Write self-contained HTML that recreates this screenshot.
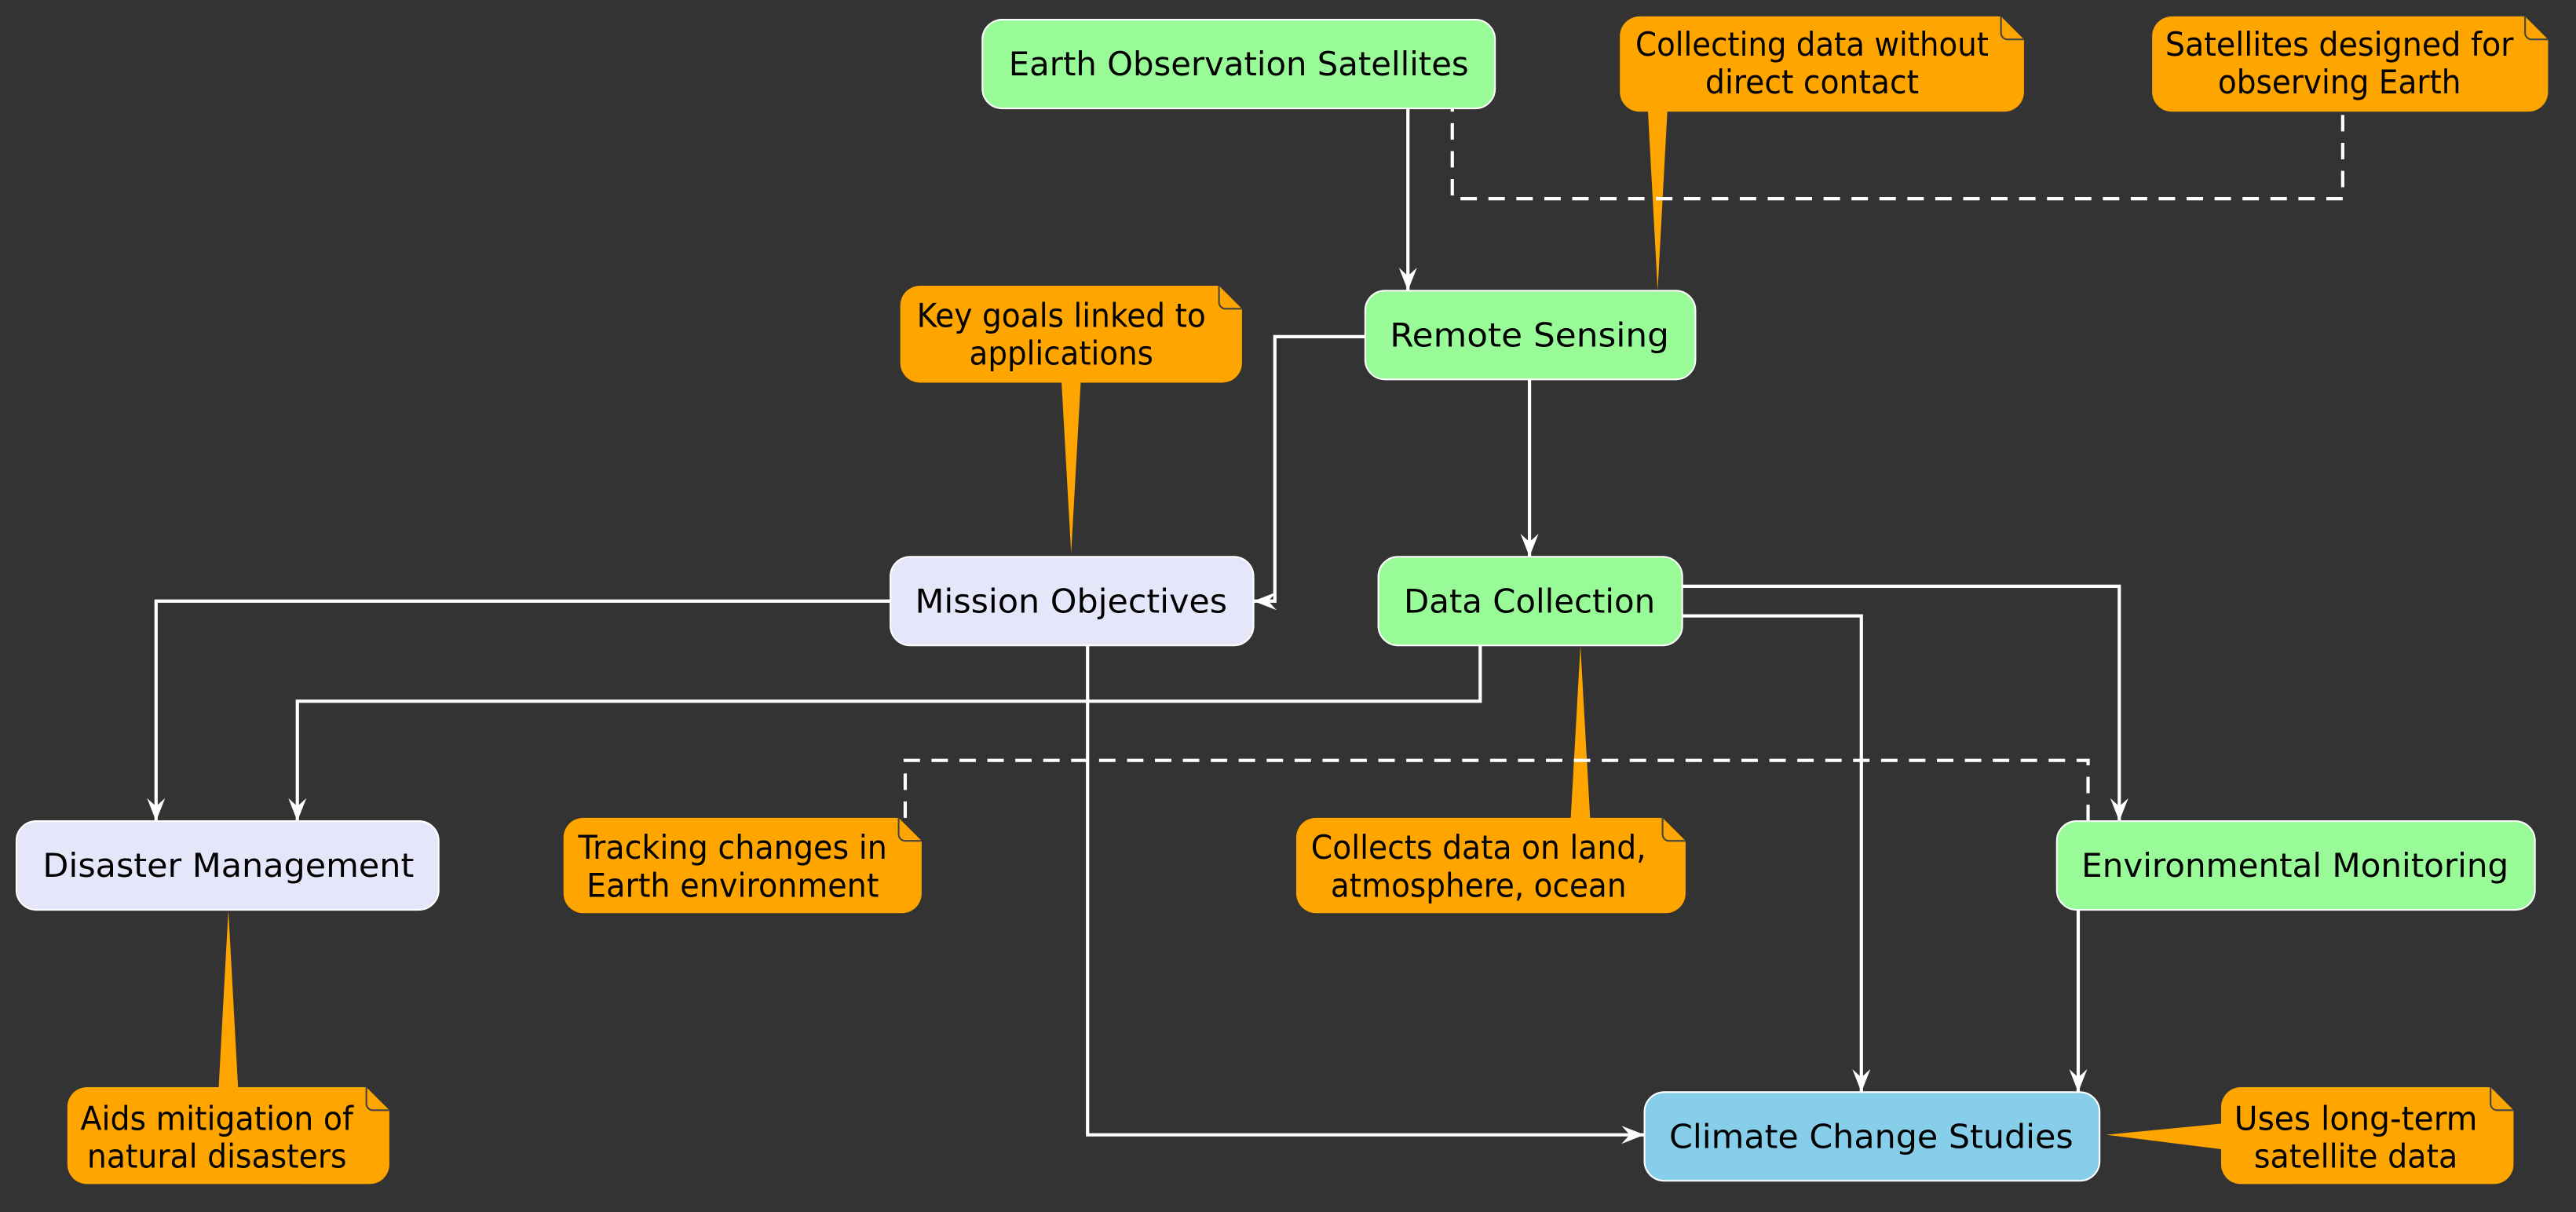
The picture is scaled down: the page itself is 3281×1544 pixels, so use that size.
<!DOCTYPE html>
<html><head><meta charset="utf-8"><style>
html,body{margin:0;padding:0;background:#333333;}
svg{display:block}
text{font-family:"DejaVu Sans","Liberation Sans",sans-serif;font-size:20px;fill:#000;text-anchor:middle}
</style></head><body>
<svg width="3281" height="1544" viewBox="0 0 1568 738" preserveAspectRatio="none" xmlns="http://www.w3.org/2000/svg">
<defs>
<marker id="a" markerWidth="16" markerHeight="14" refX="14" refY="7" orient="auto" markerUnits="userSpaceOnUse">
<path d="M0,1.5 L14,7 L0,12.5 L5,7 Z" fill="#fff"/>
</marker>
</defs>
<rect width="1568" height="738" fill="#333333"/>
<g fill="#FFA500">
<polygon points="1003,66 1015,66 1009,177"/>
<polygon points="646,230 658,230 652,337"/>
<polygon points="956,500 968,500 962,393"/>
<polygon points="133,664 145,664 139,554"/>
<polygon points="1354,684 1354,700 1282,691"/>
</g>
<g stroke="#fff" stroke-width="2" fill="none">
<path d="M857,66 V177" marker-end="url(#a)"/>
<path d="M831,205 H776 V366 H763" marker-end="url(#a)"/>
<path d="M931,231 V339" marker-end="url(#a)"/>
<path d="M542,366 H95 V500" marker-end="url(#a)"/>
<path d="M901,393 V427 H181 V500" marker-end="url(#a)"/>
<path d="M1024,357 H1290 V500" marker-end="url(#a)"/>
<path d="M1024,375 H1133 V665" marker-end="url(#a)"/>
<path d="M662,393 V691 H1001" marker-end="url(#a)"/>
<path d="M1265,554 V665" marker-end="url(#a)"/>
</g>
<g stroke="#fff" stroke-width="2" fill="none" stroke-dasharray="10,7">
<path d="M1426,70 V121 H884 V66"/>
<path d="M551,498 V463 H1271 V500"/>
</g>
<g stroke="#fff" stroke-width="1">
<rect x="598" y="12" width="312" height="54" rx="12" fill="#98FB98"/>
<rect x="831" y="177" width="201" height="54" rx="12" fill="#98FB98"/>
<rect x="542" y="339" width="221" height="54" rx="12" fill="#E6E6FA"/>
<rect x="839" y="339" width="185" height="54" rx="12" fill="#98FB98"/>
<rect x="10" y="500" width="257" height="54" rx="12" fill="#E6E6FA"/>
<rect x="1252" y="500" width="291" height="54" rx="12" fill="#98FB98"/>
<rect x="1001" y="665" width="277" height="54" rx="12" fill="#87CEEB"/>
</g>
<g fill="#FFA500">
<path d="M998,10 H1218 L1232,24 V56 A12,12 0 0 1 1220,68 H998 A12,12 0 0 1 986,56 V22 A12,12 0 0 1 998,10Z"/>
<path d="M1322,10 H1537 L1551,24 V56 A12,12 0 0 1 1539,68 H1322 A12,12 0 0 1 1310,56 V22 A12,12 0 0 1 1322,10Z"/>
<path d="M560,174 H742 L756,188 V221 A12,12 0 0 1 744,233 H560 A12,12 0 0 1 548,221 V186 A12,12 0 0 1 560,174Z"/>
<path d="M355,498 H547 L561,512 V544 A12,12 0 0 1 549,556 H355 A12,12 0 0 1 343,544 V510 A12,12 0 0 1 355,498Z"/>
<path d="M801,498 H1012 L1026,512 V544 A12,12 0 0 1 1014,556 H801 A12,12 0 0 1 789,544 V510 A12,12 0 0 1 801,498Z"/>
<path d="M53,662 H223 L237,676 V709 A12,12 0 0 1 225,721 H53 A12,12 0 0 1 41,709 V674 A12,12 0 0 1 53,662Z"/>
<path d="M1364,662 H1516 L1530,676 V709 A12,12 0 0 1 1518,721 H1364 A12,12 0 0 1 1352,709 V674 A12,12 0 0 1 1364,662Z"/>
</g>
<g fill="none" stroke="#444" stroke-width="1">
<path d="M1218,10 V20 A4,4 0 0 0 1222,24 H1232"/>
<path d="M1537,10 V20 A4,4 0 0 0 1541,24 H1551"/>
<path d="M742,174 V184 A4,4 0 0 0 746,188 H756"/>
<path d="M547,498 V508 A4,4 0 0 0 551,512 H561"/>
<path d="M1012,498 V508 A4,4 0 0 0 1016,512 H1026"/>
<path d="M223,662 V672 A4,4 0 0 0 227,676 H237"/>
<path d="M1516,662 V672 A4,4 0 0 0 1520,676 H1530"/>
</g>
<text x="754" y="46" textLength="280" lengthAdjust="spacingAndGlyphs">Earth Observation Satellites</text>
<text x="931" y="211" textLength="170" lengthAdjust="spacingAndGlyphs">Remote Sensing</text>
<text x="652" y="373" textLength="190" lengthAdjust="spacingAndGlyphs">Mission Objectives</text>
<text x="931" y="373" textLength="153" lengthAdjust="spacingAndGlyphs">Data Collection</text>
<text x="139" y="534" textLength="226" lengthAdjust="spacingAndGlyphs">Disaster Management</text>
<text x="1397" y="534" textLength="260" lengthAdjust="spacingAndGlyphs">Environmental Monitoring</text>
<text x="1139" y="699" textLength="246" lengthAdjust="spacingAndGlyphs">Climate Change Studies</text>
<g style="font-size:19px">
<text x="1103" y="34" textLength="215" lengthAdjust="spacingAndGlyphs">Collecting data without</text>
<text x="1103" y="57" textLength="130" lengthAdjust="spacingAndGlyphs">direct contact</text>
<text x="1424" y="34" textLength="212" lengthAdjust="spacingAndGlyphs">Satellites designed for</text>
<text x="1424" y="57" textLength="148" lengthAdjust="spacingAndGlyphs">observing Earth</text>
<text x="646" y="199" textLength="176" lengthAdjust="spacingAndGlyphs">Key goals linked to</text>
<text x="646" y="222" textLength="112" lengthAdjust="spacingAndGlyphs">applications</text>
<text x="446" y="523" textLength="188" lengthAdjust="spacingAndGlyphs">Tracking changes in</text>
<text x="446" y="546" textLength="178" lengthAdjust="spacingAndGlyphs">Earth environment</text>
<text x="900" y="523" textLength="204" lengthAdjust="spacingAndGlyphs">Collects data on land,</text>
<text x="900" y="546" textLength="180" lengthAdjust="spacingAndGlyphs">atmosphere, ocean</text>
<text x="132" y="688" textLength="166" lengthAdjust="spacingAndGlyphs">Aids mitigation of</text>
<text x="132" y="711" textLength="158" lengthAdjust="spacingAndGlyphs">natural disasters</text>
<text x="1434" y="688" textLength="148" lengthAdjust="spacingAndGlyphs">Uses long-term</text>
<text x="1434" y="711" textLength="124" lengthAdjust="spacingAndGlyphs">satellite data</text>
</g>
</svg>
</body></html>
